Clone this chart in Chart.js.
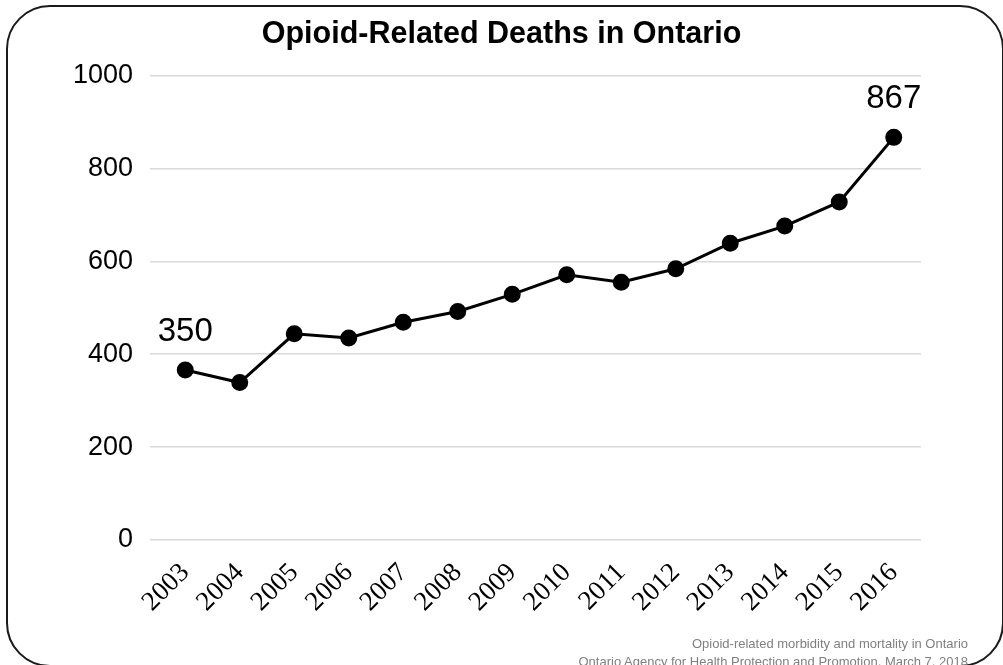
<!DOCTYPE html>
<html lang="en">
  <head>
    <meta charset="UTF-8" />
    <title>Opioid-Related Deaths in Ontario</title>
    <script src="https://cdn.jsdelivr.net/npm/chart.js"></script>
    <style>
      body {
        margin: 0;
        background: #fff;
        font-family: "Liberation Sans", Arial, sans-serif;
      }
      .wrap {
        position: relative;
        width: 1003px;
        height: 665px;
        overflow: hidden;
      }
      .frame {
        position: absolute;
        left: 6px;
        top: 5px;
        width: 998px;
        height: 662px;
        box-sizing: border-box;
        border: 2.5px solid #1a1a1a;
        border-radius: 44px;
        pointer-events: none;
      }
      canvas {
        position: absolute;
        left: 0;
        top: 0;
      }
      .source {
        position: absolute;
        right: 35px;
        top: 635px;
        text-align: right;
        color: #808080;
        font-size: 13px;
        line-height: 18px;
      }
    </style>
  </head>
  <body>
    <div class="wrap">
      <canvas id="deathsChart" width="1003" height="665"></canvas>
      <div class="frame"></div>
      <div class="source">
        Opioid-related morbidity and mortality in Ontario<br />
        Ontario Agency for Health Protection and Promotion, March 7, 2018
      </div>
    </div>

    <script>
      const years = ["2003", "2004", "2005", "2006", "2007", "2008", "2009",
        "2010", "2011", "2012", "2013", "2014", "2015", "2016"];
      const deaths = [366, 339, 444, 435, 469, 492, 529, 571, 555, 584, 639, 676, 728, 867];
      const yTicks = [0, 200, 400, 600, 800, 1000];
      // callout labels shown above the first and last points
      const callouts = { 0: "350", 13: "867" };

      // draws the two callout numbers over their points
      const calloutPlugin = {
        id: "callouts",
        afterDatasetsDraw(chart) {
          const ctx = chart.ctx;
          const pts = chart.getDatasetMeta(0).data;
          ctx.save();
          ctx.font = '33px "Liberation Sans", Arial, sans-serif';
          ctx.fillStyle = "#000";
          ctx.textAlign = "center";
          ctx.textBaseline = "middle";
          Object.keys(callouts).forEach((i) => {
            const p = pts[i];
            ctx.fillText(callouts[i], p.x, p.y - 38);
          });
          ctx.restore();
        },
      };

      new Chart(document.getElementById("deathsChart"), {
        type: "line",
        data: {
          labels: years,
          datasets: [
            {
              label: "Deaths",
              data: deaths,
              borderColor: "#000",
              backgroundColor: "#000",
              borderWidth: 3,
              pointRadius: 7,
              pointHoverRadius: 7,
              tension: 0,
            },
          ],
        },
        options: {
          responsive: false,
          animation: false,
          layout: { padding: { top: 0, left: 0, right: 0, bottom: 0 } },
          plugins: {
            legend: { display: false },
            tooltip: { enabled: false },
            title: {
              display: true,
              text: "Opioid-Related Deaths in Ontario",
              color: "#000",
              font: { family: '"Liberation Sans", Arial', size: 30.5, weight: "bold" },
              padding: { top: 16, bottom: 23 },
            },
          },
          scales: {
            x: {
              offset: true,
              grid: { display: false },
              border: { display: false },
              ticks: {
                color: "#000",
                maxRotation: 45,
                minRotation: 45,
                padding: 9,
                font: { family: '"Liberation Serif", serif', size: 27 },
              },
              afterFit: (scale) => {
                scale.height = 125;
              },
            },
            y: {
              min: 0,
              max: 1000,
              afterBuildTicks: (scale) => {
                scale.ticks = yTicks.map((v) => ({ value: v }));
              },
              grid: { color: "#d9d9d9", lineWidth: 1.5, tickLength: 8 },
              border: { display: false },
              ticks: {
                color: "#000",
                padding: 17,
                font: { family: '"Liberation Sans", Arial', size: 27 },
                callback: (v) => String(v),
              },
              afterFit: (scale) => {
                scale.width = 158;
              },
            },
            yRight: {
              position: "right",
              display: true,
              grid: { display: false },
              border: { display: false },
              ticks: { display: false },
              afterFit: (scale) => {
                scale.width = 82;
              },
            },
          },
        },
        plugins: [calloutPlugin],
      });
    </script>
  </body>
</html>
